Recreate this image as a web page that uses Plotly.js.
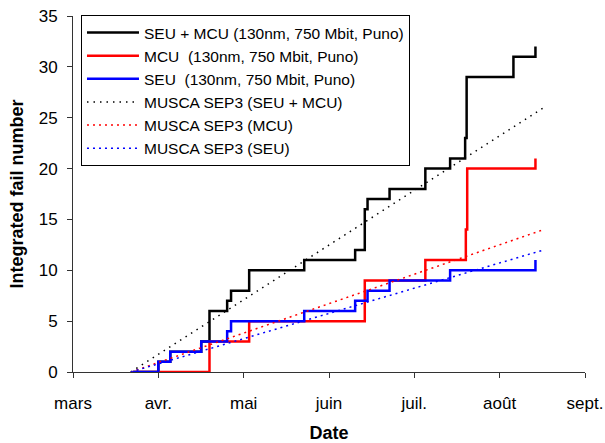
<!DOCTYPE html>
<html>
<head>
<meta charset="utf-8">
<script src="https://cdn.plot.ly/plotly-3.0.1.min.js"></script>
<style>html,body{margin:0;padding:0;background:#fff;}#chart{width:605px;height:443px;}</style>
</head>
<body>
<div id="chart"></div>
<script>
// Measured step series (date of event, cumulative count after event)
var totalDates = ["2005-03-22 20:00","2005-04-01","2005-04-05 08:00","2005-04-16 14:00","2005-04-19 14:00","2005-04-26","2005-04-27 10:00","2005-05-04","2005-05-24","2005-06-11 12:00","2005-06-15","2005-06-16","2005-06-24","2005-07-07","2005-07-16","2005-07-21 11:00","2005-07-22","2005-08-08","2005-08-16"];
var totalValues = [0,1,2,3,6,7,8,10,11,12,16,17,18,20,21,23,29,31,32];

var mcuDates = ["2005-03-22 20:00","2005-04-19 14:00","2005-05-04","2005-06-15","2005-07-07","2005-07-21 17:00","2005-07-22 05:00","2005-08-16"];
var mcuValues = [0,3,5,9,11,14,20,21];

var seuDates = ["2005-03-22 20:00","2005-04-01","2005-04-05 08:00","2005-04-16 14:00","2005-04-26","2005-04-27 10:00","2005-05-24","2005-06-11 12:00","2005-06-16","2005-06-24","2005-07-16","2005-08-16"];
var seuValues = [0,1,2,3,4,5,6,7,8,9,10,11];

// MUSCA SEP3 predictions (linear)
var trendDates = ["2005-03-22","2005-08-19"];
var trendTotal = [0,26];
var trendMcu = [0,14];
var trendSeu = [0,12];

// Axis ticks
var tickDates = ["2005-03-01","2005-04-01","2005-05-02","2005-06-02","2005-07-03","2005-08-03","2005-09-03"];
var tickLabels = ["mars","avr.","mai","juin","juil.","août","sept."];

var names = [
  "SEU + MCU (130nm, 750 Mbit, Puno)",
  "MCU\u00a0 (130nm, 750 Mbit, Puno)",
  "SEU\u00a0 (130nm, 750 Mbit, Puno)",
  "MUSCA SEP3 (SEU + MCU)",
  "MUSCA SEP3 (MCU)",
  "MUSCA SEP3 (SEU)"
];

var traces = [
  {x: totalDates, y: totalValues, name: names[0], mode: "lines", line: {color: "#000000", width: 2.5, shape: "hv"}},
  {x: mcuDates, y: mcuValues, name: names[1], mode: "lines", line: {color: "#FF0000", width: 2.5, shape: "hv"}},
  {x: seuDates, y: seuValues, name: names[2], mode: "lines", line: {color: "#0000FF", width: 2.5, shape: "hv"}},
  {x: trendDates, y: trendTotal, name: names[3], mode: "lines", line: {color: "#000000", width: 1.5, dash: "1.5px,5px"}},
  {x: trendDates, y: trendMcu, name: names[4], mode: "lines", line: {color: "#FF0000", width: 1.5, dash: "2px,4px"}},
  {x: trendDates, y: trendSeu, name: names[5], mode: "lines", line: {color: "#0000FF", width: 1.5, dash: "2px,4px"}}
];

var fontFam = "Liberation Sans, Arial, sans-serif";
var layout = {
  width: 605, height: 443,
  margin: {l: 73, r: 20, t: 16, b: 71},
  paper_bgcolor: "#ffffff", plot_bgcolor: "#ffffff",
  font: {family: fontFam, color: "#000000", size: 16},
  showlegend: true,
  legend: {
    x: 0.0156, y: 1.003, xanchor: "left", yanchor: "top",
    bgcolor: "#ffffff", bordercolor: "#000000", borderwidth: 1,
    font: {family: fontFam, size: 15.5, color: "#000000"},
    itemwidth: 52,
    entrywidth: 330, entrywidthmode: "pixels"
  },
  xaxis: {
    type: "date",
    range: ["2005-03-01","2005-09-03"],
    tickmode: "array", tickvals: tickDates, ticktext: tickLabels,
    ticks: "outside", ticklen: 5, tickwidth: 1, tickcolor: "#333333",
    showline: true, linecolor: "#333333", linewidth: 1,
    showgrid: false, zeroline: false,
    tickfont: {family: fontFam, size: 17, color: "#000000"},
    ticklabelstandoff: 11,
    title: {text: "<b>Date</b>", font: {family: fontFam, size: 18, color: "#000000"}, standoff: 14}
  },
  yaxis: {
    range: [0,35], dtick: 5, tick0: 0,
    ticks: "outside", ticklen: 5, tickwidth: 1, tickcolor: "#333333",
    showline: true, linecolor: "#333333", linewidth: 1,
    showgrid: false, zeroline: false,
    tickfont: {family: fontFam, size: 17, color: "#000000"},
    ticklabelstandoff: 6,
    title: {text: "<b>Integrated fail number</b>", font: {family: fontFam, size: 18, color: "#000000"}, standoff: 10}
  }
};

Plotly.newPlot("chart", traces, layout, {displayModeBar: false, staticPlot: true});
</script>
</body>
</html>
